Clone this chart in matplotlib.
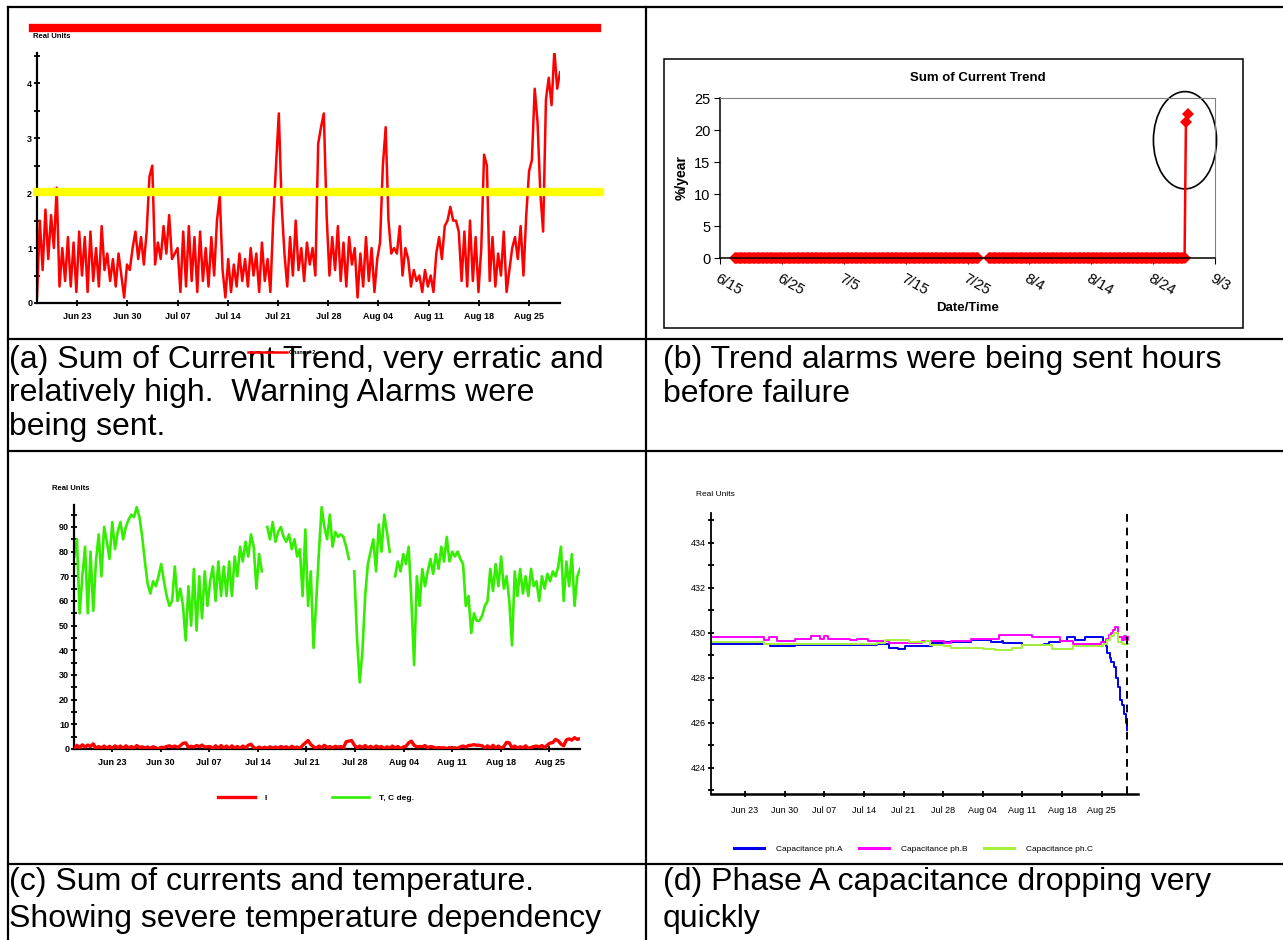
import numpy as np
import pandas as pd
import matplotlib
matplotlib.use('Agg')
import matplotlib.pyplot as plt
from matplotlib.patches import Ellipse, Rectangle
from matplotlib.lines import Line2D

plt.rcParams['font.family'] = ['Liberation Sans', 'DejaVu Sans']

W, H = 1283, 940

# ---- data ------------------------------------------------------------------
# week ticks, days counted from Jun 17
week_days = [6, 13, 20, 27, 34, 41, 48, 55, 62, 69]
week_labels = ['Jun 23', 'Jun 30', 'Jul 07', 'Jul 14', 'Jul 21',
               'Jul 28', 'Aug 04', 'Aug 11', 'Aug 18', 'Aug 25']

# (a) sum of current, real units
current_sum = [0.1, 1.5, 0.6, 1.7, 0.8, 1.6, 1.0, 2.1,
               0.3, 1.0, 0.4, 1.2, 0.3, 1.1,
               0.2, 1.3, 0.5, 1.2, 0.2, 1.3, 0.4, 1.0, 0.3, 1.4,
               0.6, 0.9, 0.4, 0.8, 0.3, 0.9, 0.5, 0.1,
               0.7, 0.6, 1.0, 1.3, 0.8, 1.2, 0.7, 1.3,
               2.3, 2.5, 0.7, 1.1,
               0.8, 1.4, 0.9, 1.6, 0.8, 0.9,
               1.0, 0.2, 1.3, 0.3, 1.4, 0.4, 1.2, 0.2, 1.3, 0.4,
               1.0, 0.3, 1.2, 0.5, 1.5, 1.95,
               0.6, 0.1, 0.8, 0.2, 0.7, 0.3, 0.9, 0.4, 0.8,
               0.3, 1.0, 0.5, 0.9, 0.2, 1.1, 0.4, 0.8, 0.2, 1.5,
               2.5, 3.45, 1.8, 0.9, 0.3,
               1.2, 0.5, 1.5, 0.6, 1.0, 0.4, 1.1, 0.7, 1.0, 0.5,
               2.9, 3.2, 3.45, 1.6, 0.5,
               1.2, 0.6, 1.4, 0.4, 1.1, 0.3, 1.2, 0.7, 1.0, 0.1, 0.9, 0.3,
               1.2, 0.4, 1.0, 0.2, 0.8, 1.1,
               2.5, 3.2, 1.5, 0.9,
               1.0, 0.9, 1.4, 0.5, 1.0, 0.8,
               0.3, 0.6, 0.4, 0.5, 0.2, 0.6, 0.3, 0.5, 0.2, 0.9,
               1.2, 0.8, 1.4, 1.5, 1.75, 1.5, 1.5, 1.3,
               0.4, 1.3, 0.3, 1.5, 0.4, 1.2, 0.2, 1.0,
               2.7, 2.5,
               0.4, 1.2, 0.3, 0.9, 0.5, 1.3, 0.2, 0.6, 1.0, 1.2, 0.8,
               1.4, 0.5, 1.6, 2.4,
               2.6, 3.9, 3.3, 2.0, 1.3, 3.7, 4.1, 3.6, 4.6, 3.9, 4.2]
warning_level = 2.02
alarm_level = 5.01

# (c) temperature, deg C
temperature = [78, 85, 55, 70, 82, 55, 80, 56,
               76, 87, 70, 90, 84, 77,
               92, 81, 88, 92, 85, 90,
               93, 95, 94, 98,
               94, 86, 76, 67, 63,
               68, 66, 70, 75,
               68, 62, 58, 60,
               74, 60, 65, 58, 44,
               66, 50, 73, 48,
               70, 53, 72, 58, 68, 74,
               60, 76, 62, 74, 62, 76,
               62, 78, 70, 82, 76,
               84, 78, 87, 82,
               65, 79, 72, np.nan,
               90, 85, 92, 84, 88, 90,
               86, 84, 87, 81, 85, 78,
               81, 62, 89, 58, 72,
               41, 60, 80, 98,
               90, 85, 95, 82, 88, 86, 87, 86, 82,
               77, np.nan, 72, 45,
               27, 40, 62, 75, 80, 85, 72, 91,
               80, 95, 88, 80, np.nan,
               70, 76, 72, 79, 75, 82, 60,
               34, 70, 58, 73, 66, 72, 77, 71, 79, 73, 82, 76,
               86, 76, 80, 78, 80, 77, 75,
               58, 62, 47, 55, 52,
               52, 54, 58, 60, 73, 64, 75, 66, 78, 65, 70, 60,
               42, 72, 62, 73, 63, 70, 62, 73, 66, 68, 60, 70,
               65, 71, 68, 72, 70, 74, 82,
               60, 76, 66, 79, 58, 70, 73]

# (b) sum of current trend, %/year (days from Jun 15)
trend_start = '2008-06-17 09:00'
trend_end = '2008-08-29 06:00'
trend_gap = ('2008-07-26 20:00', '2008-07-28 08:00')
trend_spike_days = [75.3, 75.6]
trend_spike_vals = [21.2, 22.5]
trend_tick_days = [0, 10, 20, 30, 40, 50, 60, 70, 80]
trend_tick_labels = ['6/15', '6/25', '7/5', '7/15', '7/25', '8/4', '8/14', '8/24', '9/3']

# (d) capacitance per phase (step changes, days from Jun 17)
cap_a_days = [0, 10.5, 14.9, 29.3, 31.4, 33.0, 34.2, 39.0, 41.2, 45.9,
              49.5, 51.3, 51.6, 54.9, 58.8, 59.6, 61.7, 62.8, 64.2, 66.1,
              69.3, 69.7, 70.0, 70.4, 70.7, 71.1, 71.5, 71.8, 72.2, 72.5,
              72.9, 73.2, 73.5]
cap_a_vals = [429.5, 429.4, 429.45, 429.5, 429.35, 429.3, 429.4, 429.55, 429.6, 429.7,
              429.6, 429.65, 429.55, 429.45, 429.5, 429.6, 429.65, 429.8, 429.7, 429.8,
              429.6, 429.4, 429.1, 428.9, 428.7, 428.5, 428.0, 427.6, 427.0, 426.8,
              426.4, 426.0, 425.7]
cap_b_days = [0, 9.4, 10.2, 11.6, 14.85, 17.7, 19.2, 19.9, 20.6, 24.6,
              25.7, 27.8, 31.4, 37.2, 41.2, 42.3, 45.9, 50.9, 56.7, 61.7,
              63.9, 68.9, 69.7, 70.2, 70.7, 71.0, 71.3, 71.8, 72.5, 72.9,
              73.3, 73.6]
cap_b_vals = [429.8, 429.7, 429.8, 429.65, 429.75, 429.85, 429.75, 429.85, 429.75, 429.7,
              429.75, 429.65, 429.55, 429.65, 429.55, 429.65, 429.75, 429.9, 429.8, 429.65,
              429.5, 429.6, 429.75, 429.9, 430.0, 430.15, 430.25, 429.8, 429.7, 429.85,
              429.7, 429.8]
cap_c_days = [0, 9.3, 29.3, 30.7, 35.0, 37.9, 38.6, 41.2, 42.3, 48.0, 50.2,
              53.1, 54.9, 60.3, 63.9, 69.3, 69.9, 70.5, 71.1, 71.8, 72.5, 73.6]
cap_c_vals = [429.6, 429.5, 429.55, 429.7, 429.6, 429.65, 429.45, 429.4, 429.35, 429.3, 429.25,
              429.35, 429.45, 429.3, 429.4, 429.5, 429.7, 429.85, 430.0, 429.6, 429.5, 429.5]
failure_day = 73.5

captions_a = ['(a) Sum of Current Trend, very erratic and',
              'relatively high.  Warning Alarms were',
              'being sent.']
captions_b = ['(b) Trend alarms were being sent hours', 'before failure']
captions_c = ['(c) Sum of currents and temperature.',
              'Showing severe temperature dependency']
captions_d = ['(d) Phase A capacitance dropping very', 'quickly']


# ---- helpers ---------------------------------------------------------------
def px_axes(fig, x0, y0, x1, y1):
    return fig.add_axes([x0 / W, 1 - y1 / H, (x1 - x0) / W, (y1 - y0) / H])


def fig_line(fig, xs, ys, **kw):
    fig.add_artist(Line2D([x / W for x in xs], [1 - y / H for y in ys],
                          transform=fig.transFigure, **kw))


def style_rt(ax, bold=True, size=6.5):
    for s in ['top', 'right']:
        ax.spines[s].set_visible(False)
    for s in ['left', 'bottom']:
        ax.spines[s].set_linewidth(1.6)
    ax.tick_params(which='both', direction='inout', width=1.3, labelsize=size)
    ax.tick_params(which='major', length=5)
    ax.tick_params(which='minor', length=5)
    ax.tick_params(axis='y', pad=1)
    for lab in ax.get_xticklabels() + ax.get_yticklabels():
        lab.set_fontweight('bold' if bold else 'normal')


fig = plt.figure(figsize=(W / 100, H / 100), dpi=100)

# table rules
fig_line(fig, [8, W], [7, 7], color='k', lw=1.6)
fig_line(fig, [8, 8], [7, H], color='k', lw=1.6)
fig_line(fig, [646, 646], [7, H], color='k', lw=1.6)
for yy in [339, 451, 864]:
    fig_line(fig, [8, W], [yy, yy], color='k', lw=1.6)

# ---- (a) -------------------------------------------------------------------
ax = px_axes(fig, 37, 53, 560, 303)
days_a = np.linspace(0.4, 73.3, len(current_sum))
line_a, = ax.plot(days_a, current_sum, color='#ff0000', lw=1.8, zorder=2)
ax.axhline(warning_level, xmin=0, xmax=1.076, color='#ffff00', lw=6, clip_on=False, zorder=3)
ax.axhline(alarm_level, xmin=-0.008, xmax=1.071, color='#ff0000', lw=6, clip_on=False, zorder=3)
ax.set_xlim(0.4, 73.3)
ax.set_ylim(0, 4.55)
ax.set_xticks(week_days, week_labels)
ax.set_yticks([0, 1, 2, 3, 4])
ax.set_yticks([0.5, 1.5, 2.5, 3.5, 4.5], minor=True)
style_rt(ax)
ax.tick_params(axis='x', pad=4)
fig.text(33 / W, 1 - 37 / H, 'Real Units', fontsize=5.5, fontweight='bold', va='center')
fig.legend([line_a], ['Channel 2'], loc='center left', bbox_to_anchor=(245 / W, 1 - 352 / H),
           frameon=False, handlelength=7, handletextpad=0.4, borderpad=0,
           prop={'weight': 'bold', 'size': 4})

# ---- (b) -------------------------------------------------------------------
fig.add_artist(Rectangle((664 / W, 1 - 328 / H), (1243 - 664) / W, (328 - 59) / H,
                         transform=fig.transFigure, fill=False, ec='k', lw=1.1))
axb = px_axes(fig, 720, 98, 1215, 258)
t0 = pd.Timestamp('2008-06-15')
times = pd.date_range(trend_start, trend_end, freq='5h')
gap = (times > pd.Timestamp(trend_gap[0])) & (times < pd.Timestamp(trend_gap[1]))
trend_days = list((times - t0) / pd.Timedelta(days=1))
trend_vals = [np.nan if g else 0.0 for g in gap]
trend_days += trend_spike_days
trend_vals += trend_spike_vals
axb.plot(trend_days, trend_vals, color='#ff0000', lw=1.8, marker='D', markersize=6.5,
         markeredgewidth=0, clip_on=False)
axb.add_patch(Ellipse((75.15, 18.4), 10.2, 15.2, fill=False, ec='k', lw=1.2, clip_on=False))
axb.set_xlim(0, 80)
axb.set_ylim(0, 25)
axb.set_yticks([0, 5, 10, 15, 20, 25])
axb.set_xticks(trend_tick_days)
axb.set_xticklabels(trend_tick_labels, rotation=-30, ha='left', va='top',
                    rotation_mode='anchor', fontsize=8.5)
for s in ['top', 'right']:
    axb.spines[s].set_color('#808080')
axb.spines['left'].set_linewidth(1.1)
axb.spines['bottom'].set_linewidth(1.1)
axb.tick_params(direction='out', length=4, labelsize=10.5, pad=3)
axb.tick_params(axis='x', pad=6)
axb.set_title('Sum of Current Trend', fontsize=9.5, fontweight='bold', pad=12, x=0.52)
axb.set_ylabel('%/year', fontsize=10, fontweight='bold', labelpad=4)
axb.set_xlabel('Date/Time', fontsize=9.5, fontweight='bold', labelpad=3)

# ---- (c) -------------------------------------------------------------------
axc = px_axes(fig, 74, 505, 580, 749)
days_c = np.linspace(0.55, 73.4, len(temperature))
days_i = np.linspace(0.55, 73.4, len(current_sum))
l_i, = axc.plot(days_i, current_sum, color='#ff0000', lw=2.4, zorder=3)
l_t, = axc.plot(days_c, temperature, color='#33ee00', lw=1.9, zorder=2)
axc.set_xlim(0.52, 73.4)
axc.set_ylim(0, 98.9)
axc.set_xticks(week_days, week_labels)
axc.set_yticks(range(0, 100, 10))
axc.set_yticks(range(5, 100, 10), minor=True)
style_rt(axc)
axc.tick_params(axis='x', pad=4)
fig.text(52 / W, 1 - 489 / H, 'Real Units', fontsize=5.5, fontweight='bold', va='center')
fig.legend([l_i, l_t], ['I', 'T, C deg.'], loc='center left', bbox_to_anchor=(214 / W, 1 - 798 / H),
           frameon=False, ncol=2, handlelength=4.4, handletextpad=1.2, columnspacing=7.8,
           borderpad=0, prop={'weight': 'bold', 'size': 6})

# ---- (d) -------------------------------------------------------------------
axd = px_axes(fig, 711, 513, 1138, 794)
la, = axd.step(cap_a_days, cap_a_vals, where='post', color='#0000ee', lw=1.4)
lb, = axd.step(cap_b_days, cap_b_vals, where='post', color='#ff00ff', lw=1.4)
lc, = axd.step(cap_c_days, cap_c_vals, where='post', color='#a6f03c', lw=1.4)
axd.axvline(failure_day, color='k', lw=1.4, ls=(0, (4, 3)))
axd.set_xlim(0, 75.4)
axd.set_ylim(422.84, 435.33)
axd.set_xticks(week_days, week_labels)
axd.set_yticks(range(424, 435, 2))
axd.set_yticks(range(423, 436, 2), minor=True)
style_rt(axd, bold=False, size=6.5)
axd.spines['left'].set_linewidth(1.3)
axd.spines['bottom'].set_linewidth(1.8)
axd.tick_params(axis='x', pad=6)
fig.text(696 / W, 1 - 495 / H, 'Real Units', fontsize=6, va='center')
fig.legend([la, lb, lc], ['Capacitance ph.A', 'Capacitance ph.B', 'Capacitance ph.C'],
           loc='center left', bbox_to_anchor=(730 / W, 1 - 849 / H), frameon=False, ncol=3,
           handlelength=3.6, handletextpad=1.4, columnspacing=2.0, borderpad=0,
           prop={'size': 6})
for h in fig.legends[-1].get_lines():
    h.set_linewidth(2.2)

# ---- captions --------------------------------------------------------------
def caption(lines, x, y0, step):
    for i, t in enumerate(lines):
        fig.text(x / W, 1 - (y0 + i * step) / H, t, fontsize=23, va='center', ha='left')

caption(captions_a, 9, 360, 33.5)
caption(captions_b, 663, 360, 33.5)
caption(captions_c, 9, 882, 37)
caption(captions_d, 663, 882, 37)

fig.savefig('out.png', dpi=100)
